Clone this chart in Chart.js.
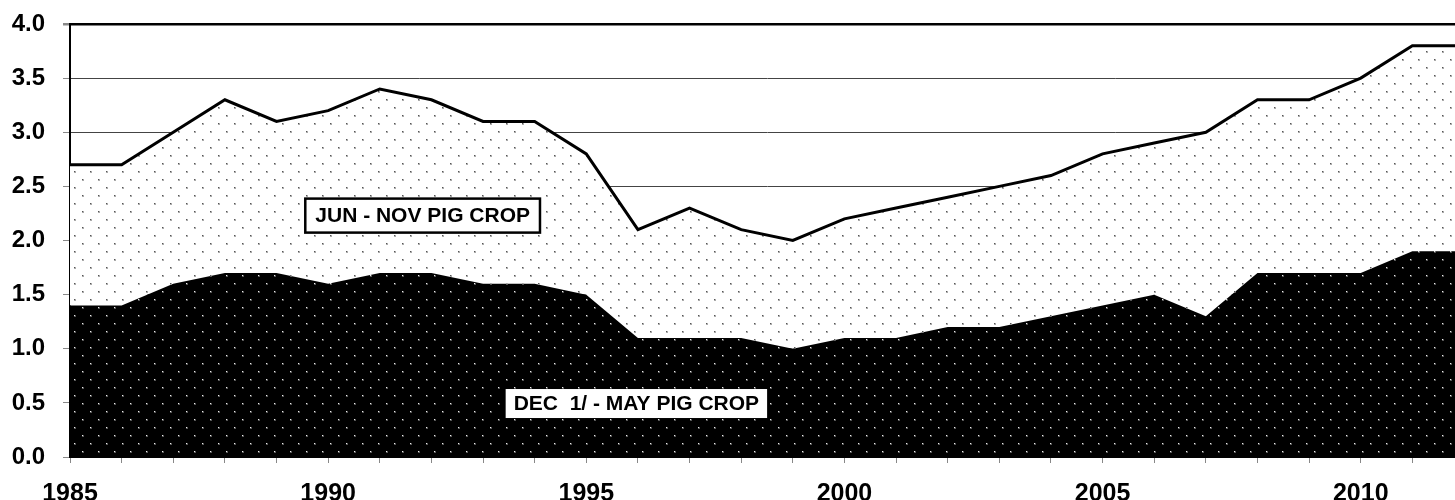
<!DOCTYPE html>
<html>
<head>
<meta charset="utf-8">
<script src="https://cdn.jsdelivr.net/npm/chart.js@4/dist/chart.umd.min.js"></script>
<style>
  html, body { margin: 0; padding: 0; background: #fff; overflow: hidden; }
  /* a bit wider than the window: the original picture is cut off past the last year */
  #wrap { width: 1466px; height: 500px; }
</style>
</head>
<body>
<div id="wrap"><canvas id="chart1"></canvas></div>
<script>
var years = [1985, 1986, 1987, 1988, 1989, 1990, 1991, 1992, 1993, 1994, 1995, 1996, 1997, 1998,
             1999, 2000, 2001, 2002, 2003, 2004, 2005, 2006, 2007, 2008, 2009, 2010, 2011, 2012];
// Dec 1/ - May pig crop
var decMay = [1.4, 1.4, 1.6, 1.7, 1.7, 1.6, 1.7, 1.7, 1.6, 1.6, 1.5, 1.1, 1.1, 1.1,
              1.0, 1.1, 1.1, 1.2, 1.2, 1.3, 1.4, 1.5, 1.3, 1.7, 1.7, 1.7, 1.9, 1.9];
// top of the Jun - Nov crop (both crops together)
var total = [2.7, 2.7, 3.0, 3.3, 3.1, 3.2, 3.4, 3.3, 3.1, 3.1, 2.8, 2.1, 2.3, 2.1,
             2.0, 2.2, 2.3, 2.4, 2.5, 2.6, 2.8, 2.9, 3.0, 3.3, 3.3, 3.5, 3.8, 3.8];
var yTicks = [0, 0.5, 1, 1.5, 2, 2.5, 3, 3.5, 4];

function dots(bg, dot, halo) {
  var c = document.createElement('canvas');
  c.width = 16; c.height = 16;
  var g = c.getContext('2d');
  g.fillStyle = bg;
  g.fillRect(0, 0, 16, 16);
  g.fillStyle = halo;
  g.fillRect(2, 3, 2, 2);
  g.fillRect(10, 11, 2, 2);
  g.fillStyle = dot;
  g.fillRect(2, 3, 1, 1);
  g.fillRect(10, 11, 1, 1);
  return g.createPattern(c, 'repeat');
}

var ctx = document.getElementById('chart1').getContext('2d');
var blackDots = dots('#000', '#eee', '#555');
var whiteDots = dots('#fff', '#555', '#aaa');

var boxLabels = {
  id: 'boxLabels',
  afterDatasetsDraw: function (chart) {
    var g = chart.ctx, xs = chart.scales.x, ys = chart.scales.y;
    var items = [
      { text: 'JUN - NOV PIG CROP', x: xs.getPixelForValue(6.83), y: ys.getPixelForValue(2.23), pad: 10, h: 34, border: true },
      { text: 'DEC  1/ - MAY PIG CROP', x: xs.getPixelForValue(10.97), y: ys.getPixelForValue(0.494), pad: 8, h: 29, border: false }
    ];
    g.save();
    g.font = 'bold 21px "Liberation Sans", Arial, sans-serif';
    g.textAlign = 'center';
    g.textBaseline = 'middle';
    items.forEach(function (it) {
      var w = g.measureText(it.text).width + it.pad * 2;
      g.fillStyle = '#fff';
      g.fillRect(it.x - w / 2, it.y - it.h / 2, w, it.h);
      if (it.border) {
        g.strokeStyle = '#000';
        g.lineWidth = 2.5;
        g.strokeRect(it.x - w / 2, it.y - it.h / 2, w, it.h);
      }
      g.fillStyle = '#000';
      g.fillText(it.text, it.x, it.y + 1);
    });
    g.restore();
  }
};

var pigChart = new Chart(ctx, {
  type: 'line',
  data: {
    labels: years,
    datasets: [{
      label: 'DEC 1/ - MAY PIG CROP',
      data: decMay,
      fill: 'origin',
      backgroundColor: blackDots,
      borderColor: '#000',
      borderWidth: 0,
      pointRadius: 0,
      tension: 0
    }, {
      label: 'JUN - NOV PIG CROP',
      data: total,
      fill: '-1',
      backgroundColor: whiteDots,
      borderColor: '#000',
      borderWidth: 3,
      pointRadius: 0,
      tension: 0
    }]
  },
  options: {
    responsive: true,
    maintainAspectRatio: false,
    animation: false,
    layout: { padding: { top: 24, right: 2, left: 0, bottom: 0 } },
    plugins: {
      legend: { display: false },
      tooltip: { enabled: false }
    },
    scales: {
      x: {
        offset: false,
        border: { color: '#000', width: 2 },
        grid: { drawOnChartArea: false, tickLength: 6, color: '#888', tickColor: '#888' },
        ticks: {
          autoSkip: false,
          maxRotation: 0,
          color: '#000',
          padding: 16,
          font: { family: '"Liberation Sans", Arial, sans-serif', size: 25, weight: 'bold' },
          callback: function (v, i) {
            var yr = years[i];
            return yr % 5 === 0 ? String(yr) : '';
          }
        },
        afterFit: function (s) {
          s.height = 43;
          s.paddingLeft = 0;
          s.paddingRight = 0;
        }
      },
      y: {
        min: 0,
        max: 4,
        border: { color: '#000', width: 2 },
        grid: {
          color: function (c) { return c.tick && c.tick.value === 4 ? '#000' : '#444'; },
          lineWidth: function (c) { return c.tick && c.tick.value === 4 ? 2.5 : 1; },
          tickLength: 7,
          tickColor: '#888'
        },
        afterBuildTicks: function (s) {
          s.ticks = yTicks.map(function (v) { return { value: v }; });
        },
        ticks: {
          color: '#000',
          padding: 18,
          font: { family: '"Liberation Sans", Arial, sans-serif', size: 24, weight: 'bold' },
          callback: function (v) { return v.toFixed(1); }
        },
        afterFit: function (s) {
          s.width = 70;
          s.paddingTop = 0;
          s.paddingBottom = 0;
        }
      }
    }
  },
  plugins: [boxLabels]
});
</script>
</body>
</html>
